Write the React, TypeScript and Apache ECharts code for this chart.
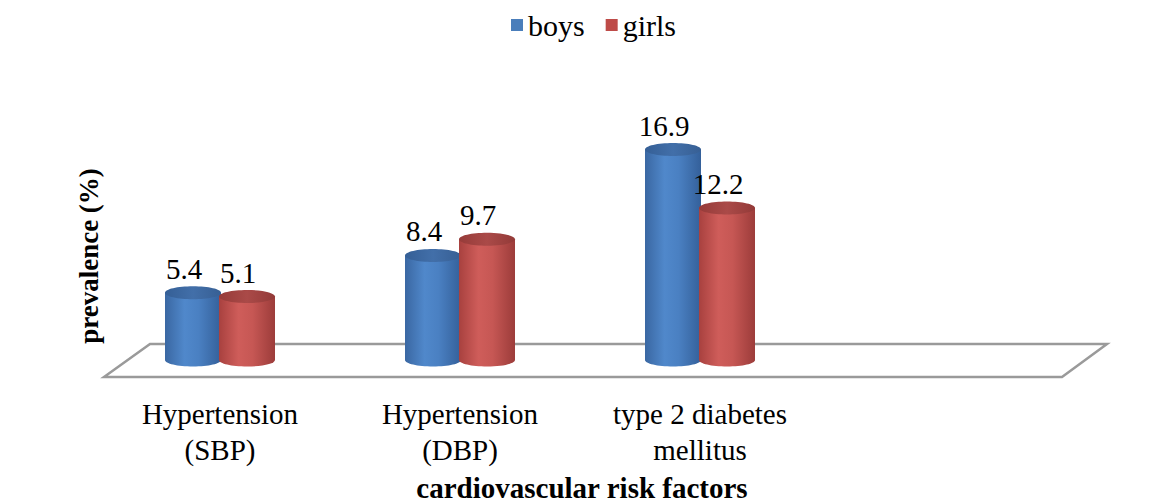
import React, { useEffect, useRef } from "react";
import * as echarts from "echarts";

const categories = ["Hypertension\n(SBP)", "Hypertension\n(DBP)", "type 2 diabetes\nmellitus", ""];
const boys = [5.4, 8.4, 16.9, null];
const girls = [5.1, 9.7, 12.2, null];
const seriesNames = ["boys", "girls"];
const xTitle = "cardiovascular risk factors";
const yTitle = "prevalence (%)";

const FONT = "'Liberation Serif', 'Times New Roman', serif";

function cylinderSeries(name: string, data: (number | null)[], offset: number, colors: { body: string[]; top: string[]; legend: string }) {
  return {
    type: "custom",
    name,
    itemStyle: { color: colors.legend },
    data: data.map((v, i) => [i, v]),
    renderItem: (params: any, api: any) => {
      const v = api.value(1);
      if (v === null || v === undefined || isNaN(v)) return null;
      const topPt = api.coord([api.value(0), v]);
      const basePt = api.coord([api.value(0), 0]);
      const cx = topPt[0] + offset;
      const rx = 28;
      const ry = 6.5;
      const bodyGrad = new echarts.graphic.LinearGradient(0, 0, 1, 0, [
        { offset: 0, color: colors.body[0] },
        { offset: 0.35, color: colors.body[1] },
        { offset: 0.6, color: colors.body[2] },
        { offset: 1, color: colors.body[3] },
      ]);
      const topGrad = new echarts.graphic.LinearGradient(0, 0, 1, 0, [
        { offset: 0, color: colors.top[0] },
        { offset: 0.5, color: colors.top[1] },
        { offset: 1, color: colors.top[2] },
      ]);
      return {
        type: "group",
        children: [
          { type: "rect", shape: { x: cx - rx, y: topPt[1], width: rx * 2, height: basePt[1] - topPt[1] }, style: { fill: bodyGrad } },
          { type: "ellipse", shape: { cx, cy: basePt[1], rx, ry }, style: { fill: bodyGrad } },
          { type: "ellipse", shape: { cx, cy: topPt[1], rx, ry }, style: { fill: topGrad } },
          {
            type: "text",
            x: cx - 9,
            y: topPt[1] - 24,
            style: { text: String(v), fill: "#000", font: `29px ${FONT}`, align: "center", verticalAlign: "middle" },
          },
        ],
      };
    },
  };
}

export default function App() {
  const ref = useRef<HTMLDivElement>(null);
  useEffect(() => {
    if (!ref.current) return;
    document.body.style.margin = "0";
    const chart = echarts.init(ref.current, null, { renderer: "svg" });
    chart.setOption({
      animation: false,
      backgroundColor: "#fff",
      legend: {
        top: 5,
        left: 506,
        icon: "rect",
        itemWidth: 12,
        itemHeight: 12,
        itemGap: 21,
        data: seriesNames,
        textStyle: { fontFamily: FONT, fontSize: 30, color: "#000" },
      },
      grid: { left: 100, right: 104, top: 111, bottom: 143 },
      xAxis: {
        type: "category",
        data: categories,
        axisLine: { show: false },
        axisTick: { show: false },
        axisLabel: { margin: 36, fontFamily: FONT, fontSize: 29, lineHeight: 36, color: "#000", interval: 0 },
      },
      yAxis: { type: "value", min: 0, max: 20, show: false },
      graphic: [
        {
          type: "polygon",
          z: 0,
          shape: { points: [[104, 377], [150, 344], [1107, 344], [1062, 377]] },
          style: { fill: "#fff", stroke: "#9a9a9a", lineWidth: 2.5 },
        },
        {
          type: "text",
          x: 89,
          y: 256,
          rotation: Math.PI / 2,
          style: { text: yTitle, font: `bold 27px ${FONT}`, fill: "#000", align: "center", verticalAlign: "middle" },
        },
        {
          type: "text",
          x: 582,
          y: 488,
          style: { text: xTitle, font: `bold 29px ${FONT}`, lineHeight: 24, fill: "#000", align: "center", verticalAlign: "middle" },
        },
      ],
      series: [
        cylinderSeries(seriesNames[0], boys, -27, {
          body: ["#3a67a2", "#5088cb", "#4a80c2", "#34609a"],
          top: ["#355f96", "#426fa9", "#375f94"],
          legend: "#4A7EBB",
        }),
        cylinderSeries(seriesNames[1], girls, 27, {
          body: ["#a8413f", "#cf5d5a", "#c65754", "#9c3c3a"],
          top: ["#963b39", "#aa4a48", "#933a38"],
          legend: "#BE4B48",
        }),
      ],
    });
    return () => chart.dispose();
  }, []);
  return <div ref={ref} style={{ width: 1164, height: 503 }} />;
}
